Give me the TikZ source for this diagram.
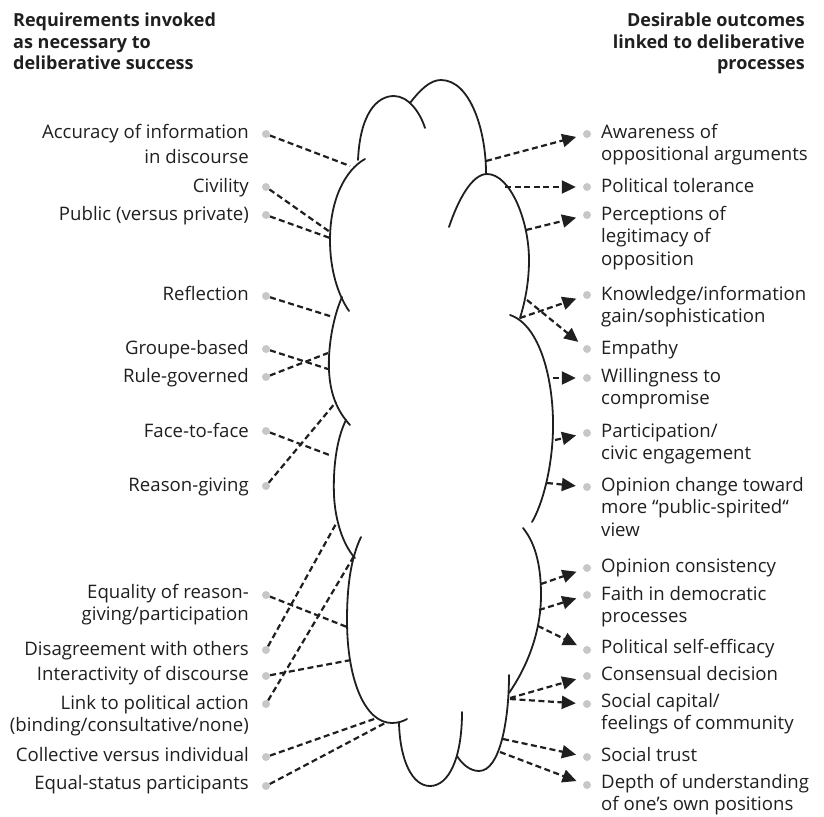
\documentclass[tikz,border=0pt]{standalone}
\usepackage{fontspec}
\setmainfont{Open Sans}
\usetikzlibrary{arrows.meta,positioning}

\begin{document}
\begin{tikzpicture}[x=1pt, y=-1pt,
    lbl/.style={font=\fontsize{18.6}{22.5}\selectfont, inner sep=0pt, text=black!88},
    lefttxt/.style={lbl, align=right, anchor=base east},
    righttxt/.style={lbl, align=left, anchor=base west},
    head/.style={font=\bfseries\fontsize{18}{21.5}\selectfont, inner sep=0pt, text=black!88},
    bullet/.style={circle, fill=black!22, minimum size=8pt, inner sep=0pt},
    cloudline/.style={line width=1.8pt, line cap=round, black!88},
    req/.style={line width=2.2pt, dash pattern=on 6pt off 3.5pt, black!88},
    arr/.style={req, -{Triangle[length=14pt,width=13pt]}, shorten >=7pt}
  ]
  \useasboundingbox (0,0) rectangle (824,816);

  % headings (base = last line)
  \node[head, align=left, anchor=base west] (hreq) at (13,70)
    {Requirements invoked\\as necessary to\\deliberative success};
  \node[head, align=right, anchor=base east] (hout) at (805,70)
    {Desirable outcomes\\linked to deliberative\\processes};

  % the cloud
  \draw[cloudline] (358,160) .. controls (360,115) and (376,96) .. (394,96)
    .. controls (408,96) and (420,112) .. (425,128);
  \draw[cloudline] (410,103) .. controls (420,90) and (430,80) .. (441,80)
    .. controls (470,80) and (486,130) .. (486,173);
  \draw[cloudline] (449,227) .. controls (458,200) and (472,174) .. (487,174)
    .. controls (510,174) and (529,220) .. (529,260)
    .. controls (529,285) and (524,305) .. (520,318);
  \draw[cloudline] (510,315) .. controls (540,325) and (554,380) .. (553,430)
    .. controls (552,470) and (542,505) .. (532,522);
  \draw[cloudline] (523,528) .. controls (537,545) and (541,570) .. (541,595)
    .. controls (541,635) and (525,670) .. (509,693);
  \draw[cloudline] (509,675) .. controls (509,720) and (500,771) .. (479,771)
    .. controls (470,771) and (462,764) .. (457,756);
  \draw[cloudline] (462,712) .. controls (462,760) and (448,786) .. (430,786)
    .. controls (412,786) and (400,760) .. (399,723);
  \draw[cloudline] (361,537) .. controls (350,560) and (347,590) .. (347,620)
    .. controls (347,680) and (365,723) .. (392,723)
    .. controls (398,723) and (404,721) .. (407,719);
  \draw[cloudline] (346,420) .. controls (336,440) and (333,470) .. (334,495)
    .. controls (335,520) and (343,545) .. (355,558);
  \draw[cloudline] (342,297) .. controls (332,320) and (328,350) .. (329,370)
    .. controls (330,395) and (338,412) .. (350,425);
  \draw[cloudline] (365,159) .. controls (345,170) and (330,200) .. (330,240)
    .. controls (330,270) and (338,295) .. (349,311);

  % points on the cloud
  \coordinate (cAcc) at (350,166);  \coordinate (cCiv) at (330,232);
  \coordinate (cPub) at (330,238);  \coordinate (cRefl) at (333,317);
  \coordinate (cGrp) at (328,369);  \coordinate (cRule) at (328,353);
  \coordinate (cFace) at (332,456); \coordinate (cReas) at (336,402);
  \coordinate (cEqu) at (347,627);  \coordinate (cDis) at (337,522);
  \coordinate (cInt) at (351,660);  \coordinate (cLnk) at (354,556);
  \coordinate (cCol) at (377,718);  \coordinate (cEqs) at (387,722);

  \coordinate (cAwa) at (486,161);  \coordinate (cTol) at (505,187);
  \coordinate (cPer) at (526,230);  \coordinate (cKno) at (520,318);
  \coordinate (cEmp) at (527,300);  \coordinate (cWil) at (553,378);
  \coordinate (cPar) at (555,440);  \coordinate (cOpc) at (547,483);
  \coordinate (cOcs) at (541,584);  \coordinate (cFai) at (539,610);
  \coordinate (cEff) at (538,626);  \coordinate (cCns) at (510,698);
  \coordinate (cSoc) at (510,699);  \coordinate (cTru) at (503,739);
  \coordinate (cDep) at (500,752);

  % requirements (text placed at the baseline of its last line)
  \node[bullet] (dAcc) at (266,134) {};
  \node[lefttxt] (tAcc) at (249,163.5) {Accuracy of information\\[3pt]in discourse};
  \node[bullet] (dCiv) at (266,187) {};
  \node[lefttxt] (tCiv) at (249,192) {Civility};
  \node[bullet] (dPub) at (266,215) {};
  \node[lefttxt] (tPub) at (249,220) {Public (versus private)};
  \node[bullet] (dRefl) at (266,296) {};
  \node[lefttxt] (tRefl) at (249,300) {Reflection};
  \node[bullet] (dGrp) at (266,349) {};
  \node[lefttxt] (tGrp) at (249,354) {Groupe-based};
  \node[bullet] (dRule) at (266,377) {};
  \node[lefttxt] (tRule) at (249,382) {Rule-governed};
  \node[bullet] (dFace) at (266,431) {};
  \node[lefttxt] (tFace) at (249,437) {Face-to-face};
  \node[bullet] (dReas) at (266,486) {};
  \node[lefttxt] (tReas) at (249,491) {Reason-giving};
  \node[bullet] (dEqu) at (266,595) {};
  \node[lefttxt] (tEqu) at (249,620.5) {Equality of reason-\\giving/participation};
  \node[bullet] (dDis) at (266,650) {};
  \node[lefttxt] (tDis) at (249,655) {Disagreement with others};
  \node[bullet] (dInt) at (266,676) {};
  \node[lefttxt] (tInt) at (249,680) {Interactivity of discourse};
  \node[bullet] (dLnk) at (266,704) {};
  \node[lefttxt] (tLnk) at (249,731.5) {Link to political action\\(binding/consultative/none)};
  \node[bullet] (dCol) at (266,757) {};
  \node[lefttxt] (tCol) at (249,761) {Collective versus individual};
  \node[bullet] (dEqs) at (266,786) {};
  \node[lefttxt] (tEqs) at (249,789) {Equal-status participants};

  % outcomes
  \node[bullet] (dAwa) at (587,134) {};
  \node[righttxt] (tAwa) at (601,160.5) {Awareness of\\oppositional arguments};
  \node[bullet] (dTol) at (587,187) {};
  \node[righttxt] (tTol) at (601,192) {Political tolerance};
  \node[bullet] (dPer) at (587,215) {};
  \node[righttxt] (tPer) at (601,265) {Perceptions of\\legitimacy of\\opposition};
  \node[bullet] (dKno) at (587,295) {};
  \node[righttxt] (tKno) at (601,322.5) {Knowledge/information\\gain/sophistication};
  \node[bullet] (dEmp) at (587,349) {};
  \node[righttxt] (tEmp) at (601,354) {Empathy};
  \node[bullet] (dWil) at (587,378) {};
  \node[righttxt] (tWil) at (601,404.5) {Willingness to\\compromise};
  \node[bullet] (dPar) at (587,433) {};
  \node[righttxt] (tPar) at (601,459.5) {Participation/\\civic engagement};
  \node[bullet] (dOpc) at (587,487) {};
  \node[righttxt] (tOpc) at (601,536) {Opinion change toward\\more “public-spirited“\\view};
  \node[bullet] (dOcs) at (587,568) {};
  \node[righttxt] (tOcs) at (601,572) {Opinion consistency};
  \node[bullet] (dFai) at (587,595) {};
  \node[righttxt] (tFai) at (601,622.5) {Faith in democratic\\processes};
  \node[bullet] (dEff) at (587,650) {};
  \node[righttxt] (tEff) at (601,653) {Political self-efficacy};
  \node[bullet] (dCns) at (587,676) {};
  \node[righttxt] (tCns) at (601,680) {Consensual decision};
  \node[bullet] (dSoc) at (587,704) {};
  \node[righttxt] (tSoc) at (601,729.5) {Social capital/\\feelings of community};
  \node[bullet] (dTru) at (587,757) {};
  \node[righttxt] (tTru) at (601,761) {Social trust};
  \node[bullet] (dDep) at (587,785) {};
  \node[righttxt] (tDep) at (601,810.5) {Depth of understanding\\of one’s own positions};

  % links into the cloud
  \draw[req] (dAcc) -- (cAcc);
  \draw[req] (dCiv) -- (cCiv);
  \draw[req] (dPub) -- (cPub);
  \draw[req] (dRefl) -- (cRefl);
  \draw[req] (dGrp) -- (cGrp);
  \draw[req] (dRule) -- (cRule);
  \draw[req] (dFace) -- (cFace);
  \draw[req] (dReas) -- (cReas);
  \draw[req] (dEqu) -- (cEqu);
  \draw[req] (dDis) -- (cDis);
  \draw[req] (dInt) -- (cInt);
  \draw[req] (dLnk) -- (cLnk);
  \draw[req] (dCol) -- (cCol);
  \draw[req] (dEqs) -- (cEqs);

  % arrows out of the cloud
  \draw[arr] (cAwa) -- (dAwa);
  \draw[arr] (cTol) -- (dTol);
  \draw[arr] (cPer) -- (dPer);
  \draw[arr] (cKno) -- (dKno);
  \draw[arr] (cEmp) -- (dEmp);
  \draw[arr] (cWil) -- (dWil);
  \draw[arr] (cPar) -- (dPar);
  \draw[arr] (cOpc) -- (dOpc);
  \draw[arr] (cOcs) -- (dOcs);
  \draw[arr] (cFai) -- (dFai);
  \draw[arr] (cEff) -- (dEff);
  \draw[arr] (cCns) -- (dCns);
  \draw[arr] (cSoc) -- (dSoc);
  \draw[arr] (cTru) -- (dTru);
  \draw[arr] (cDep) -- (dDep);
\end{tikzpicture}
\end{document}
